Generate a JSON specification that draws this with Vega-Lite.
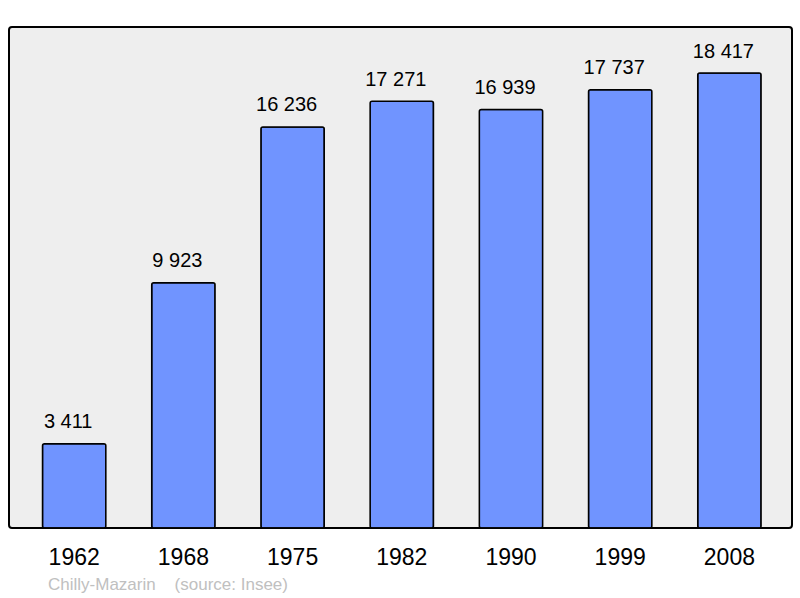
{
  "$schema": "https://vega.github.io/schema/vega-lite/v6.json",
  "width": 783,
  "height": 501,
  "autosize": {"type": "none"},
  "padding": {"left": 9, "top": 27, "right": 8, "bottom": 70},
  "background": "white",
  "title": {
    "text": "Chilly-Mazarin\u00a0\u00a0\u00a0\u00a0(source: Insee)",
    "orient": "bottom",
    "anchor": "start",
    "dx": 39,
    "offset": 8,
    "fontSize": 17,
    "fontWeight": "normal",
    "font": "Liberation Sans",
    "color": "#c0c0c0"
  },
  "data": {
    "values": [
      {"year": "1962", "population": 3411},
      {"year": "1968", "population": 9923},
      {"year": "1975", "population": 16236},
      {"year": "1982", "population": 17271},
      {"year": "1990", "population": 16939},
      {"year": "1999", "population": 17737},
      {"year": "2008", "population": 18417}
    ]
  },
  "encoding": {
    "x": {
      "field": "year",
      "type": "ordinal",
      "sort": null,
      "scale": {"paddingInner": 0.42, "paddingOuter": 0.295, "align": 0.52},
      "axis": {
        "title": null,
        "domain": false,
        "ticks": false,
        "tickSize": 0,
        "labelAngle": 0,
        "labelFontSize": 23,
        "labelFont": "Liberation Sans",
        "labelColor": "black",
        "labelBaseline": "alphabetic",
        "labelPadding": 36
      }
    },
    "y": {
      "field": "population",
      "type": "quantitative",
      "scale": {"domain": [0, 20280], "nice": false},
      "axis": null
    }
  },
  "layer": [
    {
      "mark": {"type": "bar", "fill": "#7094ff", "stroke": "black", "strokeWidth": 1.5, "cornerRadius": 2}
    },
    {
      "mark": {"type": "text", "baseline": "alphabetic", "dy": -15.5, "dx": -6, "fontSize": 20, "font": "Liberation Sans", "color": "black"},
      "encoding": {
        "text": {"field": "population", "type": "quantitative", "format": ",d"}
      }
    }
  ],
  "config": {
    "locale": {
      "number": {"decimal": ",", "thousands": "\u00a0", "grouping": [3], "currency": ["", " €"]}
    },
    "view": {"fill": "#eeeeee", "stroke": "black", "strokeWidth": 2, "cornerRadius": 3}
  }
}
